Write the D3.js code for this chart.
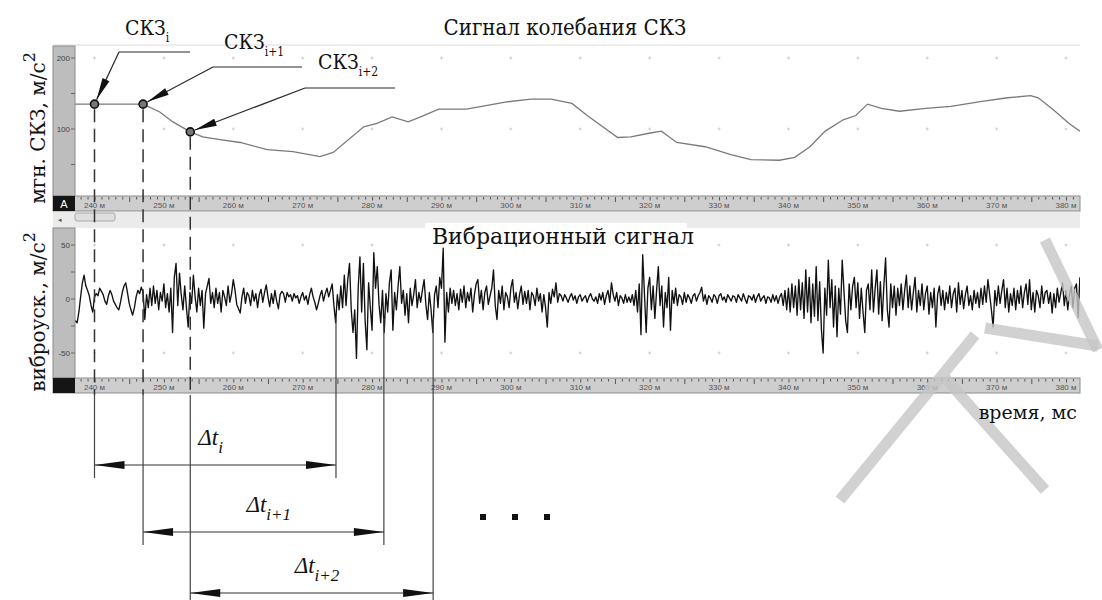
<!DOCTYPE html>
<html>
<head>
<meta charset="utf-8">
<script src="https://cdn.jsdelivr.net/npm/d3@7"></script>
<style>
  body { margin: 0; background: #fff; }
  svg { display: block; }
</style>
</head>
<body>
<div id="chart"></div>
<script>
// ---- data ----
// RMS (СКЗ) curve, time in ms, value in m/s^2
const rmsTime  = [237.2, 240, 247, 249.4, 251.3, 253.8, 255.6, 258.1, 261, 264.9, 268.6, 272.5, 274.4, 278.8, 280.7, 282.9, 285.2, 287, 289.6, 293.6,
                  299.2, 302.9, 305.8, 308.8, 311, 315.4, 317.3, 319.9, 321.7, 323.9, 328, 331.7, 334.6, 338.7, 340.9, 343.1, 345.3, 347.9, 349.7, 351.4,
                  353.4, 356, 359.8, 363.4, 367.9, 371.6, 374.9, 376, 378.3, 380.4, 382];
const rmsValue = [135, 135, 135, 124, 110, 96, 89, 85, 81, 71, 68, 61, 67, 103, 108, 117, 110, 117, 128, 128,
                  138, 142, 142, 136, 119, 88, 89, 94, 97, 81, 75, 64, 57, 56, 60, 75, 97, 113, 119, 135,
                  129, 125, 129, 132, 139, 144, 147, 144, 126, 108, 97];

// marked RMS samples and the end of each interval
const markTime  = [240, 247, 253.8];
const markValue = [135, 135, 96];
const markSub   = ["i", "i+1", "i+2"];
const endTime   = [274.8, 281.7, 288.8];

// vibration signal, sampled every 0.25 ms starting at 237.25 ms
const vibStart = 237.25, vibStep = 0.25;
const vibValue = [
  -20,-22,-12,2,15,22,12,8,3,-6,-12,2,5,3,10,7,4,-2,-5,3,
  8,4,-2,-5,-8,-10,-3,6,12,15,6,-4,-10,-15,-8,2,8,5,11,6,
  -19,4,-8,10,-6,12,-4,8,-10,6,-2,14,-8,5,-12,10,-31,20,33,-6,
  24,4,-10,12,-8,-26,6,-4,22,2,-12,10,-6,8,-27,5,12,19,-4,6,
  -8,10,-4,6,-12,8,2,-6,12,-3,5,18,8,-5,-9,-13,2,10,-4,6,
  3,-6,8,-2,5,-8,4,9,-3,6,13,2,-7,5,-4,8,-2,-9,4,7,
  5,-3,6,2,4,-2,5,1,3,-4,2,6,-1,3,-5,4,10,2,-3,-10,
  -4,3,8,-2,5,10,2,8,14,-6,-22,4,-10,12,-8,22,-6,18,33,-10,
  -31,-10,-55,10,39,-12,33,-20,-47,15,-8,-29,43,10,30,-5,-22,8,-31,5,
  -12,15,27,-29,6,-10,12,30,-4,8,-15,5,-22,10,-6,4,18,-8,6,-3,
  8,18,-5,-19,6,-10,-31,4,12,-8,20,10,47,-40,6,-12,10,-4,8,-6,
  5,-10,9,-3,12,-8,6,-2,10,-12,4,14,18,-4,8,-10,6,12,-5,3,
  10,27,-6,-19,8,-4,12,-10,6,2,-8,10,18,-3,6,-9,4,12,-5,7,
  -4,8,-10,6,3,-6,10,-2,5,-12,4,-8,-26,6,-4,9,2,15,-3,5,
  3,-2,4,1,-3,2,5,-1,3,-4,2,4,-2,1,3,-3,2,5,0,-2,
  2,-4,5,-1,6,-5,3,8,-3,15,4,-2,6,-6,3,1,-4,4,-3,2,
  -3,4,-6,8,-12,14,-33,41,5,-31,10,20,-10,12,-18,8,30,-6,12,-26,
  6,-8,20,-29,8,-4,10,-6,4,2,-5,6,-3,4,1,-4,3,5,-2,3,
  6,11,-2,4,-5,3,1,-3,4,2,-4,3,5,-1,2,-3,4,1,-2,3,
  2,-3,4,1,-2,5,0,-4,3,2,-1,4,-3,2,5,-2,1,3,-4,2,
  1,-3,4,-2,3,-4,2,5,-6,8,-10,10,-12,14,-8,12,-15,18,-10,15,
  -18,27,-12,20,-22,14,-16,30,-20,16,-28,-50,10,-15,36,-8,18,-26,12,-35,
  10,-14,36,8,-20,-31,14,-10,12,20,-8,15,-18,10,-12,-31,8,14,-10,27,
  -12,10,27,-14,16,-20,12,38,-10,-26,14,-8,12,-15,10,-6,14,-10,8,22,
  -8,12,-10,6,20,-12,8,-6,14,-10,5,12,-14,6,-8,10,-26,4,12,-6,
  8,-10,6,-4,12,-8,5,10,-12,15,-5,8,-9,4,12,-6,3,-10,8,-4,
  6,-8,10,-5,12,-3,18,4,-10,-26,8,-6,12,-4,8,18,-8,10,-12,5,
  -6,10,-10,8,-4,12,-8,6,14,-5,18,-10,6,-12,8,3,-8,12,-4,6,
  8,-4,6,-13,5,-8,10,-3,6,15,-6,8,-10,4,12,-8,10,14,-17,20
];

const timeTicks = [240, 250, 260, 270, 280, 290, 300, 310, 320, 330, 340, 350, 360, 370, 380];
const rmsTicks  = [200, 100];
const vibTicks  = [50, 0, -50];

// ---- layout ----
const W = 1102, H = 600;
const left = 75, right = 1080;
const serif = "'DejaVu Serif', serif";
const sans = "'Liberation Sans', Arial, sans-serif";

const svg = d3.select("#chart").append("svg").attr("width", W).attr("height", H);

const x = d3.scaleLinear().domain([240, 380]).range([94.5, 1066]);
const yTop = d3.scaleLinear().domain([0, 200]).range([200, 58]);
const yBot = d3.scaleLinear().domain([-50, 50]).range([353, 245]);

// top panel frame
svg.append("line").attr("x1", 53).attr("x2", right).attr("y1", 45).attr("y2", 45)
  .attr("stroke", "#dcdcdc");

function valueBar(y0, y1, scale, ticks, minor) {
  svg.append("rect").attr("x", 53).attr("y", y0).attr("width", 22).attr("height", y1 - y0)
    .attr("fill", "#bdbdbd").attr("stroke", "#8c8c8c");
  svg.selectAll(null).data(minor).enter().append("line")
    .attr("x1", 71).attr("x2", 75)
    .attr("y1", d => scale(d)).attr("y2", d => scale(d))
    .attr("stroke", "#666");
  svg.selectAll(null).data(ticks).enter().append("text")
    .attr("x", 70).attr("y", d => scale(d) + 3)
    .attr("text-anchor", "end")
    .attr("font-family", sans).attr("font-size", 8).attr("fill", "#444")
    .text(d => d);
}

function timeStrip(y0, letter) {
  svg.append("rect").attr("x", 53).attr("y", y0).attr("width", right - 53).attr("height", 15)
    .attr("fill", "#cecece").attr("stroke", "#8c8c8c");
  svg.append("rect").attr("x", 53).attr("y", y0).attr("width", 22).attr("height", 15)
    .attr("fill", "#151515");
  if (letter) {
    svg.append("text").attr("x", 64).attr("y", y0 + 11.5).attr("text-anchor", "middle")
      .attr("font-family", sans).attr("font-size", 11).attr("fill", "#fff").text(letter);
  }
  const minor = d3.range(238, 382, 1).filter(d => d % 5 !== 0);
  const g = svg.append("g").attr("transform", `translate(0,${y0 + 1})`);
  g.call(d3.axisBottom(x).tickValues(minor).tickSize(2.5).tickFormat(""));
  g.append("g").call(d3.axisBottom(x).tickValues(d3.range(245, 382, 10)).tickSize(5).tickFormat(""));
  g.append("g").call(d3.axisBottom(x).tickValues(timeTicks).tickSize(3.5).tickFormat(""));
  g.selectAll(".domain").remove();
  g.selectAll(".tick line").attr("stroke", "#555");
  svg.selectAll(null).data(timeTicks).enter().append("text")
    .attr("x", d => x(d)).attr("y", y0 + 11.5).attr("text-anchor", "middle")
    .attr("font-family", sans).attr("font-size", 8).attr("fill", "#555")
    .text(d => d + " м");
}

function gridDots(scale, vals) {
  const pts = [];
  timeTicks.forEach(t => vals.forEach(v => pts.push([t, v])));
  svg.selectAll(null).data(pts).enter().append("path")
    .attr("d", d => `M${x(d[0]) - 1.5},${scale(d[1])}h3M${x(d[0])},${scale(d[1]) - 1.5}v3`)
    .attr("stroke", "#c4c4c4").attr("stroke-width", 0.8);
}

valueBar(46, 196, yTop, rmsTicks, [200, 150, 100, 50]);
timeStrip(196, "A");

// scroll row
svg.append("rect").attr("x", 53).attr("y", 212).attr("width", right - 53).attr("height", 16).attr("fill", "#ebebeb");
svg.append("rect").attr("x", 75).attr("y", 213).attr("width", 40).attr("height", 8).attr("rx", 2)
  .attr("fill", "#dedede").attr("stroke", "#aaa");
svg.append("text").attr("x", 58).attr("y", 222).attr("font-family", sans).attr("font-size", 7)
  .attr("fill", "#555").text("◂");

valueBar(228, 378, yBot, vibTicks, [50, 25, 0, -25, -50]);
timeStrip(378, null);

gridDots(yTop, rmsTicks);
gridDots(yBot, [50, -50]);

// clip regions
svg.append("clipPath").attr("id", "clipTop").append("rect").attr("x", left).attr("y", 46).attr("width", right - left).attr("height", 150);
svg.append("clipPath").attr("id", "clipBot").append("rect").attr("x", left).attr("y", 228).attr("width", right - left).attr("height", 150);

// RMS curve
const rmsData = rmsTime.map((t, i) => [t, rmsValue[i]]);
svg.append("path").datum(rmsData)
  .attr("clip-path", "url(#clipTop)")
  .attr("fill", "none").attr("stroke", "#7a7a7a").attr("stroke-width", 1.3)
  .attr("d", d3.line().x(d => x(d[0])).y(d => yTop(d[1])));

// vibration signal
const vibData = vibValue.map((v, i) => [vibStart + i * vibStep, v]);
svg.append("path").datum(vibData)
  .attr("clip-path", "url(#clipBot)")
  .attr("fill", "none").attr("stroke", "#111").attr("stroke-width", 1.35)
  .attr("stroke-linejoin", "round")
  .attr("d", d3.line().x(d => x(d[0])).y(d => yBot(d[1])));

// titles
svg.append("text").attr("x", 565).attr("y", 35).attr("text-anchor", "middle")
  .attr("font-family", serif).attr("font-stretch", "condensed").attr("font-size", 22).attr("fill", "#111")
  .text("Сигнал колебания СКЗ");

svg.append("rect").attr("x", 425).attr("y", 223).attr("width", 262).attr("height", 24).attr("fill", "#fff");
svg.append("text").attr("x", 563).attr("y", 244).attr("text-anchor", "middle")
  .attr("font-family", serif).attr("font-size", 22).attr("fill", "#111")
  .text("Вибрационный сигнал");

// y titles
function yTitle(cx, cy, label) {
  const t = svg.append("text").attr("transform", `translate(${cx},${cy}) rotate(-90)`)
    .attr("text-anchor", "middle").attr("font-family", serif).attr("font-size", 20).attr("fill", "#111");
  t.append("tspan").text(label);
  t.append("tspan").attr("dy", -10).attr("font-size", 16).text("2");
}
yTitle(45, 128, "мгн. СКЗ, м/с");
yTitle(45, 312, "виброуск., м/с");

// watermark strokes (light grey, lower right)
const wm = [[1045, 240, 1098, 350], [985, 328, 1098, 346],
            [975, 335, 840, 500], [945, 378, 1045, 490]];
svg.selectAll(null).data(wm).enter().append("line")
  .attr("x1", d => d[0]).attr("y1", d => d[1]).attr("x2", d => d[2]).attr("y2", d => d[3])
  .attr("stroke", "#c6c6c6").attr("stroke-width", 11).attr("opacity", 0.8);

svg.append("text").attr("x", 1077).attr("y", 419).attr("text-anchor", "end")
  .attr("font-family", serif).attr("font-size", 19).attr("fill", "#111").text("время, мс");

// ---- annotations ----
const ink = "#2a2a2a";
function arrowHead(x1, y1, x2, y2, len, half) {
  const dx = x2 - x1, dy = y2 - y1, L = Math.hypot(dx, dy);
  const ux = dx / L, uy = dy / L;
  const bx = x2 - ux * len, by = y2 - uy * len;
  return `M${x2},${y2}L${bx - uy * half},${by + ux * half}L${bx + uy * half},${by - ux * half}Z`;
}

// leader lines to the marked RMS samples
const leaderStart = [[119, 52, 190], [213, 67, 302], [305, 88, 395]];
const labelPos = [[125, 35], [224, 49], [318, 69]];
markTime.forEach((t, i) => {
  const px = x(t), py = yTop(markValue[i]);
  const [sx, sy, ex] = leaderStart[i];
  const dx = px - sx, dy = py - sy, L = Math.hypot(dx, dy);
  const tx = px - dx / L * 5, ty = py - dy / L * 5;
  svg.append("line").attr("x1", ex).attr("y1", sy).attr("x2", sx).attr("y2", sy)
    .attr("stroke", ink).attr("stroke-width", 1.2);
  svg.append("line").attr("x1", sx).attr("y1", sy).attr("x2", tx).attr("y2", ty)
    .attr("stroke", ink).attr("stroke-width", 1.2);
  svg.append("path").attr("d", arrowHead(sx, sy, tx, ty, 22, 3.8)).attr("fill", "#111");

  const lab = svg.append("text").attr("x", labelPos[i][0]).attr("y", labelPos[i][1])
    .attr("font-family", serif).attr("font-stretch", "condensed").attr("font-size", 21).attr("fill", "#111");
  lab.append("tspan").text("СКЗ");
  lab.append("tspan").attr("dy", 7).attr("font-size", 12).text(markSub[i]);
});

// arrow rows
const rowY = [465, 532, 593];
const deltaSub = ["i", "i+1", "i+2"];
markTime.forEach((t, i) => {
  const x0 = x(t), x1 = x(endTime[i]), y = rowY[i];
  const py = yTop(markValue[i]);
  // dashed drop line through both panels
  svg.append("line").attr("x1", x0).attr("x2", x0).attr("y1", py + 5).attr("y2", 395)
    .attr("stroke", "#333").attr("stroke-width", 1.5).attr("stroke-dasharray", "13,7");
  svg.append("line").attr("x1", x0).attr("x2", x0).attr("y1", 395).attr("y2", Math.min(y + 13, H))
    .attr("stroke", "#444").attr("stroke-width", 1.2);
  svg.append("line").attr("x1", x1).attr("x2", x1).attr("y1", 318).attr("y2", Math.min(y + 13, H))
    .attr("stroke", "#444").attr("stroke-width", 1.2);
  svg.append("line").attr("x1", x0).attr("x2", x1).attr("y1", y).attr("y2", y)
    .attr("stroke", "#333").attr("stroke-width", 1.2);
  svg.append("path").attr("d", arrowHead(x1, y, x0, y, 30, 4)).attr("fill", "#111");
  svg.append("path").attr("d", arrowHead(x0, y, x1, y, 30, 4)).attr("fill", "#111");

  const mid = (x0 + x1) / 2;
  const lab = svg.append("text").attr("x", mid - 17).attr("y", y - 20)
    .attr("font-family", "'Liberation Serif', serif").attr("font-style", "italic")
    .attr("font-size", 23).attr("fill", "#111");
  lab.append("tspan").text("Δt");
  lab.append("tspan").attr("dy", 8).attr("font-size", 17).text(deltaSub[i]);
});

// marker circles
svg.selectAll(null).data(markTime).enter().append("circle")
  .attr("cx", d => x(d)).attr("cy", (d, i) => yTop(markValue[i])).attr("r", 4)
  .attr("fill", "#777").attr("stroke", "#111").attr("stroke-width", 1.6);

// ellipsis
svg.selectAll(null).data([483, 515, 547]).enter().append("rect")
  .attr("x", d => d - 3).attr("y", 514).attr("width", 6).attr("height", 6).attr("fill", "#111");
</script>
</body>
</html>
